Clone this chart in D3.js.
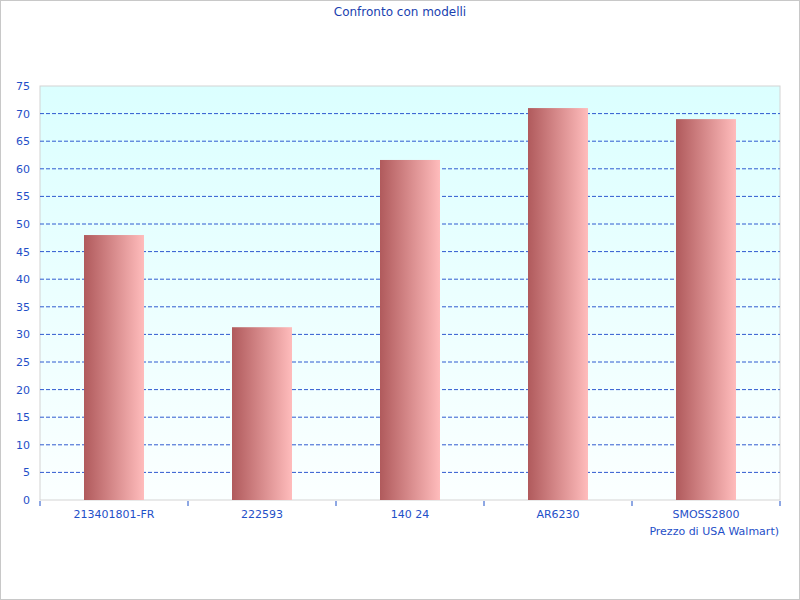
<!DOCTYPE html>
<html><head><meta charset="utf-8">
<script src="https://cdn.jsdelivr.net/npm/d3@7"></script>
<style>body{margin:0;background:#fff}text{font-family:"DejaVu Sans",sans-serif}</style>
</head><body>
<script>
// chart data
var categories = ['213401801-FR', '222593', '140 24', 'AR6230', 'SMOSS2800'];
var values = [48, 31.3, 61.6, 71, 69];
var yTicks = d3.range(0, 76, 5);

var W = 800, H = 600;
var m = { left: 40, right: 20, top: 86, bottom: 100 };
var blue = '#1f50c8';

var svg = d3.select('body').append('svg').attr('width', W).attr('height', H);
var defs = svg.append('defs');
var bg = defs.append('linearGradient').attr('id', 'bg').attr('x1', 0).attr('y1', 0).attr('x2', 0).attr('y2', 1);
bg.append('stop').attr('offset', '0%').attr('stop-color', '#dbffff');
bg.append('stop').attr('offset', '100%').attr('stop-color', '#fbffff');
var bar = defs.append('linearGradient').attr('id', 'bar');
bar.append('stop').attr('offset', '0%').attr('stop-color', '#b05a5c');
bar.append('stop').attr('offset', '100%').attr('stop-color', '#ffbcbc');

svg.append('rect').attr('x', 0.5).attr('y', 0.5).attr('width', W - 1).attr('height', H - 1)
  .attr('fill', '#fff').attr('stroke', '#c8c8c8');

var x = d3.scaleBand().domain(categories).range([m.left, W - m.right]);
var y = d3.scaleLinear().domain([0, 75]).range([H - m.bottom, m.top]);

svg.append('rect').attr('x', m.left).attr('y', m.top)
  .attr('width', W - m.left - m.right).attr('height', H - m.top - m.bottom)
  .attr('fill', 'url(#bg)').attr('stroke', '#d4d4d4');

svg.append('g').selectAll('line').data(yTicks.slice(1, -1)).join('line')
  .attr('x1', m.left).attr('x2', W - m.right)
  .attr('y1', function (d) { return y(d); }).attr('y2', function (d) { return y(d); })
  .attr('stroke', '#2f5ad0').attr('stroke-dasharray', '4 2');

svg.append('g').selectAll('rect').data(values).join('rect')
  .attr('x', function (d, i) { return x(categories[i]) + x.bandwidth() / 2 - 30; })
  .attr('width', 60)
  .attr('y', function (d) { return y(d); })
  .attr('height', function (d) { return y(0) - y(d); })
  .attr('fill', 'url(#bar)');

svg.append('g').selectAll('text').data(yTicks).join('text')
  .attr('x', 30).attr('y', function (d) { return y(d) + 4; })
  .attr('text-anchor', 'end').attr('font-size', 11).attr('fill', blue)
  .text(function (d) { return d; });

var bounds = categories.map(function (c) { return x(c); }).concat([W - m.right]);
svg.append('g').selectAll('line').data(bounds).join('line')
  .attr('x1', function (d) { return d; }).attr('x2', function (d) { return d; })
  .attr('y1', y(0) + 1).attr('y2', y(0) + 6).attr('stroke', blue);

svg.append('g').selectAll('text').data(categories).join('text')
  .attr('x', function (d) { return x(d) + x.bandwidth() / 2; }).attr('y', 518)
  .attr('text-anchor', 'middle').attr('font-size', 11).attr('fill', blue)
  .text(function (d) { return d; });

svg.append('text').attr('x', 779).attr('y', 535).attr('text-anchor', 'end')
  .attr('font-size', 11).attr('fill', blue).text('Prezzo di USA Walmart)');

svg.append('text').attr('x', 400).attr('y', 16).attr('text-anchor', 'middle')
  .attr('font-size', 12).attr('fill', '#1a3fb0').text('Confronto con modelli');
</script>
</body></html>
